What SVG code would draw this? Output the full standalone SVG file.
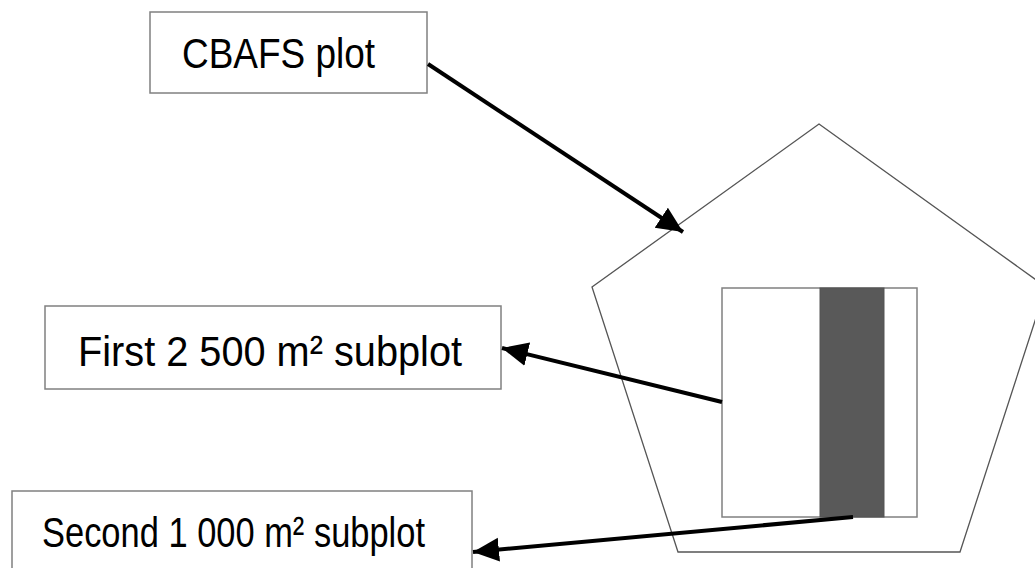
<svg xmlns="http://www.w3.org/2000/svg" width="1035" height="568" viewBox="0 0 1035 568">
<style>
.box{fill:#fff;stroke:#808080;stroke-width:1.5}
.lbl{font-family:"Liberation Sans",Arial,sans-serif;font-size:43px;fill:#000}
.con{stroke:#000;stroke-width:4;fill:none}
</style>
<defs>
<marker id="ah" markerUnits="userSpaceOnUse" markerWidth="30" markerHeight="26" refX="26" refY="12" orient="auto">
<path d="M0,0 L26,12 L0,24 Z" fill="#000"/>
</marker>
</defs>
<rect width="1035" height="568" fill="#fff"/>
<g id="plot">
<polygon points="819,124 1046,287 960,552 678,552 592,287" fill="#fff" stroke="#555" stroke-width="1.3"/>
<rect x="722" y="288" width="195" height="229" class="box"/>
<rect x="820" y="288" width="64" height="229" fill="#595959" stroke="#555" stroke-width="1"/>
</g>
<g id="n1">
<rect x="150" y="12" width="277" height="81" class="box"/>
<text x="182" y="68" class="lbl" font-size="40" textLength="193" lengthAdjust="spacingAndGlyphs">CBAFS plot</text>
</g>
<g id="n2">
<rect x="45" y="306" width="456" height="83" class="box"/>
<text x="78" y="366" class="lbl" textLength="384" lengthAdjust="spacingAndGlyphs">First 2 500 m² subplot</text>
</g>
<g id="n3">
<rect x="12" y="491" width="460" height="90" class="box"/>
<text x="42" y="547" class="lbl" textLength="383" lengthAdjust="spacingAndGlyphs">Second 1 000 m² subplot</text>
</g>
<g id="connectors">
<line x1="428" y1="64" x2="683" y2="232" class="con" marker-end="url(#ah)"/>
<line x1="722" y1="402" x2="502" y2="348" class="con" marker-end="url(#ah)"/>
<line x1="853" y1="517" x2="473" y2="552" class="con" marker-end="url(#ah)"/>
</g>
</svg>
